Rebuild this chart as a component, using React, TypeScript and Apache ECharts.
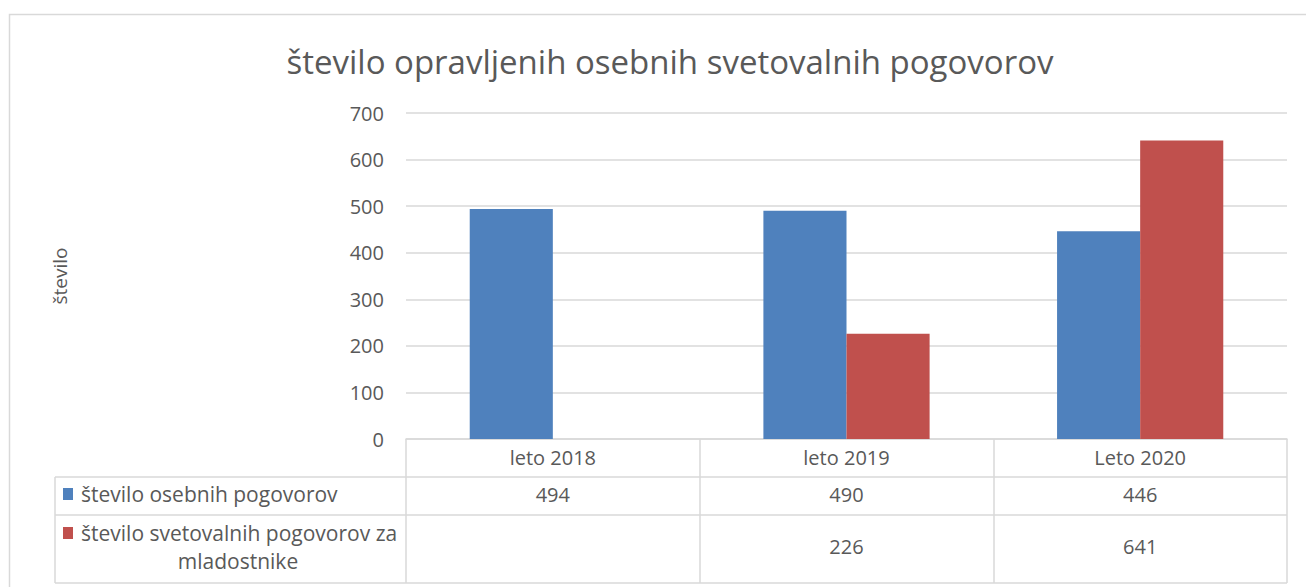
import React, { useEffect, useRef } from "react";
import * as echarts from "echarts";

const categories = ["leto 2018", "leto 2019", "Leto 2020"];
const seriesNames = ["število osebnih pogovorov", "število svetovalnih pogovorov za mladostnike"];
const osebni: (number | null)[] = [494, 490, 446];
const mladostniki: (number | null)[] = [null, 226, 641];
const colors = ["#4f81bd", "#c0504d"];

const W = 1306;
const H = 587;
const gridLeft = 406;
const gridRight = 1287;
const gridTop = 113;
const gridBottom = 439;
const rowH1 = 477;
const rowH2 = 515;
const tableBottom = 583;
const legendLeft = 55;
const textColor = "#595959";
const lineColor = "#d9d9d9";
const font = "'Open Sans', 'Noto Sans', sans-serif";
const fs = 20;
const legendFs = 21;

export default function App() {
  const ref = useRef<HTMLDivElement>(null);
  useEffect(() => {
    document.body.style.margin = "0";
    const chart = echarts.init(ref.current!, null, { renderer: "svg" });
    const valueLabel = (arr: (number | null)[]) => (_v: string, i: number) =>
      arr[i] == null ? "" : String(arr[i]);
    const line = (x1: number, y1: number, x2: number, y2: number) => ({
      type: "line",
      shape: { x1, y1, x2, y2 },
      style: { stroke: lineColor, lineWidth: 1.5 },
      silent: true,
    });
    chart.setOption({
      animation: false,
      backgroundColor: "#ffffff",
      textStyle: { fontFamily: font },
      title: {
        text: "število opravljenih osebnih svetovalnih pogovorov",
        left: 665,
        top: 40,
        textAlign: "center",
        textStyle: { fontSize: 33, fontWeight: "normal", color: textColor, fontFamily: font },
      },
      grid: { left: gridLeft, right: W - gridRight, top: gridTop, bottom: H - gridBottom },
      xAxis: [
        {
          type: "category",
          data: categories,
          axisLine: { show: true, lineStyle: { color: lineColor, width: 1.5 } },
          axisTick: { show: true, length: tableBottom - gridBottom, lineStyle: { color: lineColor, width: 1.5 } },
          axisLabel: { color: textColor, fontSize: fs, margin: 8, fontFamily: font },
        },
        {
          type: "category",
          data: categories,
          position: "bottom",
          offset: rowH1 - gridBottom,
          axisLine: { show: false },
          axisTick: { show: false },
          axisLabel: { color: textColor, fontSize: fs, margin: 7, fontFamily: font, formatter: valueLabel(osebni) },
        },
        {
          type: "category",
          data: categories,
          position: "bottom",
          offset: rowH2 - gridBottom,
          axisLine: { show: false },
          axisTick: { show: false },
          axisLabel: { color: textColor, fontSize: fs, margin: 21, fontFamily: font, formatter: valueLabel(mladostniki) },
        },
      ],
      yAxis: {
        type: "value",
        min: 0,
        max: 700,
        interval: 100,
        name: "število",
        nameLocation: "middle",
        nameRotate: 90,
        nameGap: 337,
        nameTextStyle: { color: textColor, fontSize: 19, fontFamily: font },
        axisLine: { show: false },
        axisTick: { show: false },
        axisLabel: { color: textColor, fontSize: fs, margin: 22, fontFamily: font },
        splitLine: { lineStyle: { color: lineColor, width: 1.5 } },
      },
      series: [
        {
          type: "bar",
          name: seriesNames[0],
          data: osebni,
          barWidth: "28.3%",
          barGap: "0%",
          itemStyle: { color: colors[0] },
        },
        {
          type: "bar",
          name: seriesNames[1],
          data: mladostniki,
          barWidth: "28.3%",
          barGap: "0%",
          itemStyle: { color: colors[1] },
        },
      ],
      graphic: [
        {
          type: "rect",
          shape: { x: 9.5, y: 14.5, width: W + 20, height: H + 20 },
          style: { fill: "none", stroke: lineColor, lineWidth: 1.5 },
          silent: true,
        },
        line(legendLeft, rowH1, gridRight, rowH1),
        line(legendLeft, rowH2, gridRight, rowH2),
        line(legendLeft, tableBottom, gridRight, tableBottom),
        line(legendLeft, rowH1, legendLeft, tableBottom),
        { type: "rect", shape: { x: 63, y: 488, width: 10, height: 12 }, style: { fill: colors[0] } },
        {
          type: "text",
          x: 81,
          y: 494,
          style: { text: seriesNames[0], fill: textColor, fontSize: legendFs, fontFamily: font, verticalAlign: "middle" },
        },
        { type: "rect", shape: { x: 63, y: 527, width: 10, height: 12 }, style: { fill: colors[1] } },
        {
          type: "text",
          x: 81,
          y: 533,
          style: {
            text: "število svetovalnih pogovorov za",
            fill: textColor,
            fontSize: legendFs,
            fontFamily: font,
            verticalAlign: "middle",
          },
        },
        {
          type: "text",
          x: 238,
          y: 561,
          style: {
            text: "mladostnike",
            fill: textColor,
            fontSize: legendFs,
            fontFamily: font,
            align: "center",
            verticalAlign: "middle",
          },
        },
      ],
    });
    return () => chart.dispose();
  }, []);
  return <div ref={ref} style={{ width: W, height: H }} />;
}
